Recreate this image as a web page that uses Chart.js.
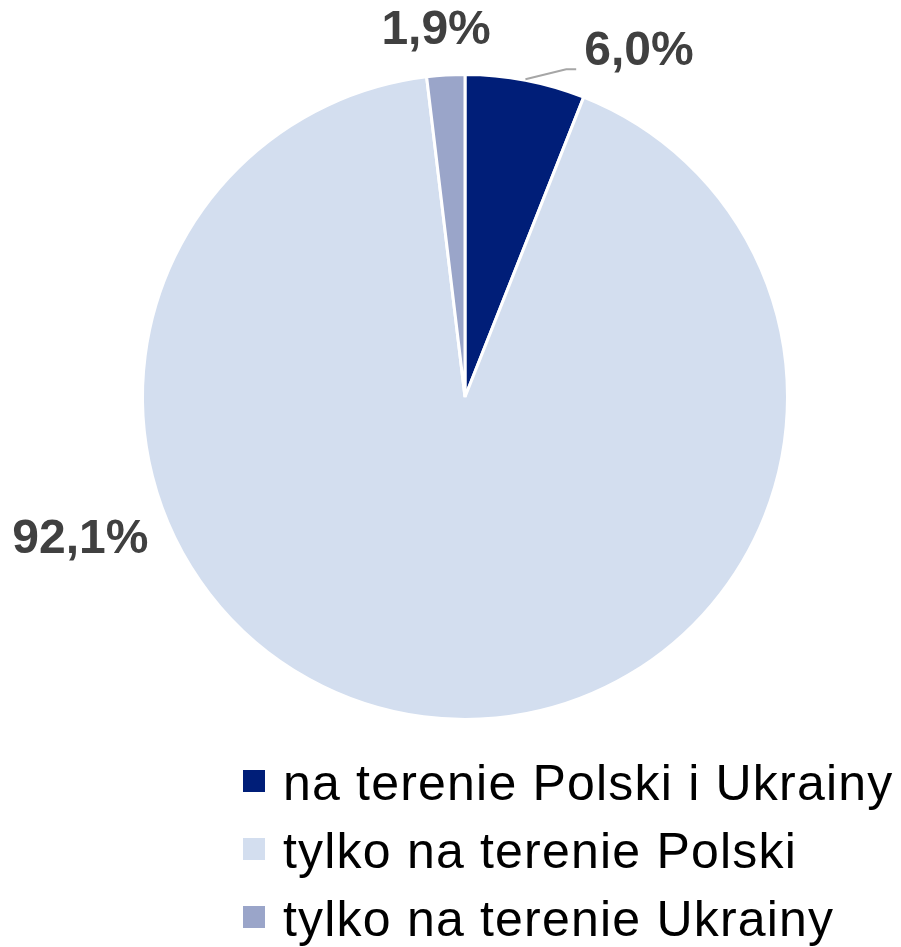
<!DOCTYPE html>
<html>
<head>
<meta charset="utf-8">
<script src="https://cdn.jsdelivr.net/npm/chart.js@4"></script>
<style>
  html, body { margin: 0; padding: 0; background: #ffffff; }
  #wrap { width: 901px; height: 947px; position: relative; }
</style>
</head>
<body>
<div id="wrap"><canvas id="c" width="901" height="947"></canvas></div>
<script>
const categories = ["na terenie Polski i Ukrainy", "tylko na terenie Polski", "tylko na terenie Ukrainy"];
const shares = [6.0, 92.1, 1.9];
const valueLabels = ["6,0%", "92,1%", "1,9%"];
const sliceColors = ["#001E78", "#D3DEEF", "#9AA5C9"];

// label placement (style/layout, not data): angle from top in degrees, distance in radius units
const labelLayout = [
  { angle: 26.7, dist: 1.20, leader: true },
  { angle: 249.8, dist: 1.271, leader: false },
  { angle: -4.5, dist: 1.143, leader: false }
];

const labelPlugin = {
  id: 'pieLabels',
  afterDatasetsDraw(chart) {
    const ctx = chart.ctx;
    const meta = chart.getDatasetMeta(0);
    ctx.save();
    ctx.font = 'bold 48px "Liberation Sans", Arial, sans-serif';
    ctx.fillStyle = '#404040';
    ctx.textAlign = 'center';
    ctx.textBaseline = 'middle';
    meta.data.forEach((arc, i) => {
      const p = arc.getProps(['x', 'y', 'startAngle', 'endAngle', 'outerRadius'], true);
      const lay = labelLayout[i];
      const a = lay.angle * Math.PI / 180;
      const lx = p.x + Math.sin(a) * p.outerRadius * lay.dist;
      const ly = p.y - Math.cos(a) * p.outerRadius * lay.dist;
      if (lay.leader) {
        const mid = (p.startAngle + p.endAngle) / 2;
        const sx = p.x + Math.cos(mid) * p.outerRadius;
        const sy = p.y + Math.sin(mid) * p.outerRadius;
        const w = ctx.measureText(valueLabels[i]).width;
        const ex = lx - w / 2 - 18;
        const ey = ly + 18;
        ctx.beginPath();
        ctx.strokeStyle = '#A6A6A6';
        ctx.lineWidth = 2;
        ctx.moveTo(sx, sy - 1);
        ctx.lineTo(ex, ey);
        ctx.lineTo(ex + 10, ey);
        ctx.stroke();
      }
      ctx.fillText(valueLabels[i], lx, ly + 1);
    });
    ctx.restore();
  }
};

const legendPlugin = {
  id: 'customLegend',
  afterDraw(chart) {
    const ctx = chart.ctx;
    const o = chart.options.plugins.customLegend;
    ctx.save();
    ctx.font = o.fontSize + 'px "Liberation Sans", Arial, sans-serif';
    if ('letterSpacing' in ctx) ctx.letterSpacing = o.spacing + 'px';
    ctx.textAlign = 'left';
    ctx.textBaseline = 'alphabetic';
    chart.data.labels.forEach((lab, i) => {
      const base = o.top + i * o.rowGap;
      ctx.fillStyle = chart.data.datasets[0].backgroundColor[i];
      ctx.fillRect(o.left, base - o.box - 8, o.box, o.box);
      ctx.fillStyle = '#000000';
      ctx.fillText(lab, o.textLeft, base);
    });
    ctx.restore();
  }
};

new Chart(document.getElementById('c'), {
  type: 'pie',
  data: {
    labels: categories,
    datasets: [{
      data: shares,
      backgroundColor: sliceColors,
      borderColor: '#ffffff',
      borderWidth: 3
    }]
  },
  options: {
    responsive: false,
    animation: false,
    layout: { padding: { left: 141, right: 112, top: 73, bottom: 226 } },
    plugins: {
      legend: { display: false },
      tooltip: { enabled: false },
      customLegend: { left: 243, textLeft: 283, top: 800, rowGap: 68, box: 22, fontSize: 50, spacing: 1.2 }
    }
  },
  plugins: [labelPlugin, legendPlugin]
});
</script>
</body>
</html>
